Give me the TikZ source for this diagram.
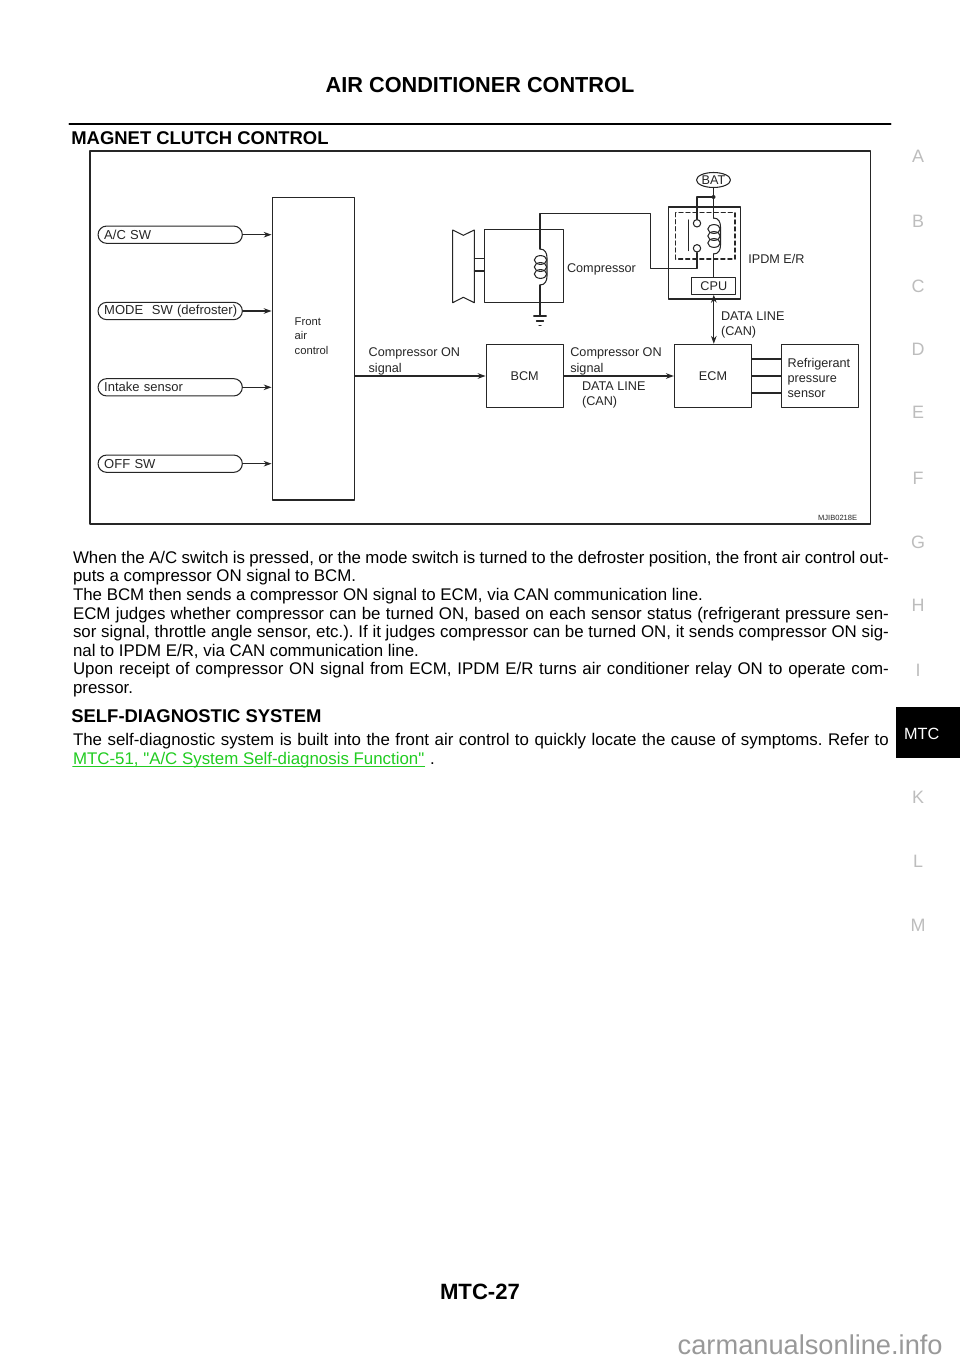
\documentclass[tikz,border=0pt]{standalone}
\usepackage{fontspec}
\setmainfont{Liberation Sans}
\newfontfamily\linkfont{Liberation Sans}
\usetikzlibrary{arrows.meta,calc,shapes.geometric}
\definecolor{linkgreen}{rgb}{0.13,0.80,0.13}
\definecolor{tabgray}{rgb}{0.74,0.74,0.74}
\definecolor{markgray}{rgb}{0.6,0.6,0.6}
\definecolor{wire}{rgb}{0.15,0.15,0.15}
\newcommand{\fullline}[1]{\makebox[16.32cm][s]{#1}}
\tikzset{
  >={Stealth[length=4.5pt,width=3.2pt]},
  wiring/.style={line width=0.6pt,color=wire},
  dtext/.style={inner sep=0pt,anchor=base west,color=wire,font=\fontsize{7.2}{8.7}\selectfont},
  dbox/.style={draw=wire,line width=0.6pt,inner sep=0pt,color=wire,font=\fontsize{7.2}{8.7}\selectfont},
  pill/.style={dbox,rounded corners=4.9pt,minimum width=2.886cm,minimum height=0.346cm,text width=2.64cm,align=left,font=\fontsize{7.4}{8.7}\selectfont},
  contact/.style={circle,draw=wire,line width=0.6pt,minimum size=0.148cm,inner sep=0pt},
  body/.style={inner sep=0pt,anchor=base west,font=\fontsize{9.6}{11}\selectfont},
  heading/.style={inner sep=0pt,anchor=base west,font=\fontsize{10.5}{12}\bfseries\selectfont},
  sidetab/.style={inner sep=0pt,color=tabgray,font=\fontsize{10.2}{12}\selectfont},
  coil/.pic={
    \draw[wiring] (0,-18) .. controls (5,-18) and (7,-14) .. (7,-9) -- (7,9) .. controls (7,14) and (5,18) .. (0,18);
    \foreach \e in {-7,0,7}
      \draw[wiring] (0.5,\e) ellipse (6.2 and 4.4);
  }
}
\begin{document}
\frenchspacing
\begin{tikzpicture}[line cap=round,line join=round,x=0.02cm,y=-0.02cm]
    \useasboundingbox (0,0) rectangle (960,1358);
    \fill[white] (0,0) rectangle (960,1358);

    % page head
    \node[inner sep=0pt,anchor=base,font=\fontsize{12.35}{14}\bfseries\selectfont] (title) at (480,92.5) {AIR CONDITIONER CONTROL};
    \draw [line width=1.4pt] (69.5,124) -- (890.5,124);
    \node[heading] (magnet) at (71,144.3) {MAGNET CLUTCH CONTROL};

    % frame
    \draw [line width=0.85pt,color=wire] (90,151) rectangle (870.5,524);
    \node[inner sep=0pt,anchor=base east,color=wire,font=\fontsize{4.3}{5}\selectfont] (figno) at (857.5,520.7) {MJIB0218E};

    % inputs
    \node[dbox,minimum width=1.646cm,minimum height=6.046cm] (front) at (313.2,348.9) {};
    \node[dtext,anchor=west,align=left,font=\fontsize{6.4}{8.33}\selectfont] (frontlabel) at (294.3,336) {Front\\air\\control};
    \node[pill] (acsw) at (170.2,234.7) {A/C SW};
    \node[pill] (modesw) at (170.2,311) {\mbox{MODE\ \ SW (defroster)}};
    \node[pill] (intake) at (170.2,387.3) {Intake sensor};
    \node[pill] (offsw) at (170.2,463.7) {OFF SW};
    \foreach \n in {acsw,modesw,intake,offsw}
      \draw [->,wiring] (\n.east) -- (\n.east -| front.west);

    % lower row
    \node[dbox,minimum width=1.546cm,minimum height=1.268cm] (bcm) at (524.7,376) {BCM};
    \node[dbox,minimum width=1.546cm,minimum height=1.268cm] (ecm) at (713,376) {ECM};
    \node[dbox,minimum width=1.532cm,minimum height=1.268cm] (sensor) at (820,376) {};
    \node[dtext,anchor=west,align=left] (sensorlabel) at (787.3,378) {Refrigerant\\pressure\\sensor};
    \draw [->,wiring] (front.east |- bcm.west) -- (bcm.west);
    \draw [->,wiring] (bcm.east) -- (ecm.west);
    \foreach \d in {-17,0,17}
      \draw [wiring] ($(ecm.east)+(0,\d)$) -- ($(sensor.west)+(0,\d)$);
    \node[dtext,anchor=west,align=left] (signalA) at (368.3,361.5) {Compressor ON\\signal};
    \node[dtext,anchor=west,align=left] (signalB) at (570,361.5) {Compressor ON\\signal};
    \node[dtext,anchor=west,align=left] (canA) at (581.7,395) {DATA LINE\\(CAN)};
    \node[dtext,anchor=west,align=left] (canB) at (720.7,325) {DATA LINE\\(CAN)};

    % compressor
    \node[dbox,minimum width=1.58cm,minimum height=1.466cm] (compressor) at (523.8,266.3) {};
    \node[dtext] (complabel) at (566.7,272.7) {Compressor};
    \draw [wiring] (452.7,230) -- (463.3,235.3) -- (474.3,230) -- (474.3,302.7) -- (463.3,297.3) -- (452.7,302.7) -- cycle;
    \draw [wiring] (474.3,258.7) -- (484.3,258.7);
    \draw [wiring] (474.3,271) -- (484.3,271);
    \pic at (540,267) {coil};
    \coordinate (ctop) at (540,249);
    \coordinate (cbot) at (540,285);
    \coordinate (gnd) at (540,316);
    \draw [wiring] (cbot) -- (gnd);
    \draw [wiring] (533.7,316) -- (546.3,316);
    \draw [wiring] (536.5,321) -- (543.5,321);
    \draw [wiring] (539,325.7) -- (541,325.7);

    % relay unit
    \node[dbox,minimum width=1.44cm,minimum height=1.84cm] (ipdm) at (704.7,253) {};
    \node[dtext] (ipdmlabel) at (748,263.3) {IPDM E/R};
    \draw [wiring,dash pattern=on 2.4pt off 1.6pt] (675.7,212.7) rectangle (735,259);
    \node[dbox,minimum width=0.886cm,minimum height=0.332cm,fill=white] (cpu) at (713.8,286) {CPU};
    \node[dbox,ellipse,minimum width=0.68cm,minimum height=0.3cm] (bat) at (713.5,180) {BAT};
    \node[contact] (contactA) at (697,223.3) {};
    \node[contact] (contactB) at (697,248.3) {};
    \coordinate (junct) at (713.5,197);
    \coordinate (rtop) at (713.5,218);
    \coordinate (rbot) at (713.5,254);
    \coordinate (wireA) at (650.3,268.3);
    \coordinate (wireB) at (650.3,213.3);
    \pic at (713.5,236) {coil};
    \draw [wiring] (bat.south) -- (rtop);
    \draw [fill=wire,draw=none] (junct) circle (2);
    \draw [wiring] (junct) -| (contactA.north);
    \draw [wiring] (688.7,220) -- (688.7,250.7);
    \draw [wiring] (contactB.south) |- (wireA) -- (wireB) -| (ctop);
    \draw [wiring] (rbot) -- (rbot |- cpu.north);
    \draw [<->,wiring] (cpu.south) -- (cpu.south |- ecm.north);

    % text
    \node[body] (lineA) at (72.7,563.3) {\fullline{When the A/C switch is pressed, or the mode switch is turned to the defroster position, the front air control out-}};
    \node[body] (lineB) at (72.7,581.9) {puts a compressor ON signal to BCM.};
    \node[body] (lineC) at (72.7,600.5) {The BCM then sends a compressor ON signal to ECM, via CAN communication line.};
    \node[body] (lineD) at (72.7,619) {\fullline{ECM judges whether compressor can be turned ON, based on each sensor status (refrigerant pressure sen-}};
    \node[body] (lineE) at (72.7,637.5) {\fullline{sor signal, throttle angle sensor, etc.). If it judges compressor can be turned ON, it sends compressor ON sig-}};
    \node[body] (lineF) at (72.7,656.1) {nal to IPDM E/R, via CAN communication line.};
    \node[body] (lineG) at (72.7,674.7) {\fullline{Upon receipt of compressor ON signal from ECM, IPDM E/R turns air conditioner relay ON to operate com-}};
    \node[body] (lineH) at (72.7,693.3) {pressor.};
    \node[heading] (selfdiag) at (71,722.3) {SELF-DIAGNOSTIC SYSTEM};
    \node[body] (lineI) at (72.7,745.7) {\fullline{The self-diagnostic system is built into the front air control to quickly locate the cause of symptoms. Refer to}};
    \node[body,color=linkgreen] (linkJ) at (72.7,764.3) {\linkfont MTC-51, "A/C System Self-diagnosis Function"};
    \draw [color=linkgreen,line width=0.5pt] ($(linkJ.base west)+(0,2)$) -- ($(linkJ.base east)+(0,2)$);
    \node[body] (lineJ) at (429.7,764.3) {.};

    % side tabs
    \foreach \t/\y in {A/156.7,B/221.7,C/286.7,D/349,E/412.7,F/478,G/542.7,H/605.7,I/670.7,K/797.7,L/861,M/925.7}
      \node[sidetab] (tab\t) at (918,\y) {\t};
    \fill (896,707.3) rectangle (960,758.3);
    \node[inner sep=0pt,anchor=base west,color=white,font=\fontsize{9.25}{11}\selectfont] (tabMTC) at (903.7,739) {MTC};

    % page foot
    \node[inner sep=0pt,anchor=base,font=\fontsize{12.6}{14}\bfseries\selectfont] (pageno) at (480,1299) {MTC-27};
    \node[inner sep=0pt,anchor=base east,color=markgray,font=\fontsize{15.5}{18}\selectfont] (mark) at (943,1354.5) {carmanualsonline.info};
\end{tikzpicture}
\end{document}
